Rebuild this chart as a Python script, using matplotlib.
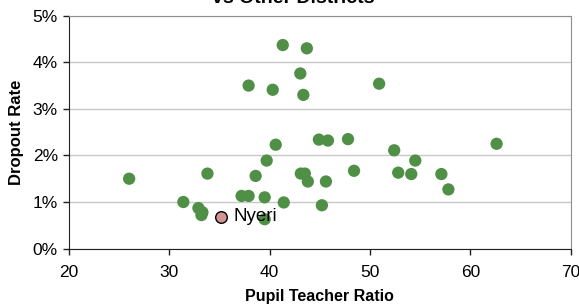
import matplotlib
matplotlib.use("Agg")
import matplotlib.pyplot as plt
from matplotlib.ticker import FuncFormatter, MultipleLocator

# other districts: pupil teacher ratio, dropout rate (%)
ptr = [26.0, 33.8, 31.4, 32.9, 33.3, 33.2, 37.2, 37.9, 39.5, 39.5,
       41.4, 38.6, 39.7, 40.6, 37.9, 40.3, 41.3, 43.7, 43.05, 43.35,
       43.1, 43.5, 43.8, 44.9, 45.2, 45.8, 47.8, 50.9, 52.4, 45.6,
       48.4, 52.8, 54.1, 54.5, 57.1, 57.8, 62.6]
dropout = [1.50, 1.61, 1.00, 0.87, 0.78, 0.72, 1.13, 1.13, 1.10, 0.63,
           0.99, 1.56, 1.89, 2.23, 3.50, 3.41, 4.37, 4.30, 3.76, 3.30,
           1.61, 1.61, 1.44, 2.34, 0.93, 2.32, 2.35, 3.54, 2.11, 1.44,
           1.67, 1.63, 1.60, 1.89, 1.60, 1.27, 2.25]

nyeri_ptr = 35.1
nyeri_dropout = 0.68

plt.rcParams['font.family'] = ['Liberation Sans', 'DejaVu Sans']

fig = plt.figure(figsize=(5.79, 3.05), dpi=100)
ax = fig.add_axes([0.119, 0.185, 0.867, 0.7635])

ax.scatter(ptr, dropout, s=78, c="#4F8F46", edgecolors="none", zorder=3)
ax.scatter([nyeri_ptr], [nyeri_dropout], s=70, c="#D49494", edgecolors="black",
           linewidths=1.0, zorder=4)
ax.annotate("Nyeri", (nyeri_ptr, nyeri_dropout), xytext=(9, 0),
            textcoords="offset points", va="center", ha="left", fontsize=13.5, zorder=5)

ax.set_xlim(20, 70)
ax.set_ylim(0, 5)
ax.xaxis.set_major_locator(MultipleLocator(10))
ax.yaxis.set_major_locator(MultipleLocator(1))
ax.yaxis.set_major_formatter(FuncFormatter(lambda v, p: "%d%%" % v))
ax.grid(axis="y", color="#c8c8c8", linewidth=1.0)
ax.set_axisbelow(True)

for side in ["top", "right"]:
    ax.spines[side].set_color("#909090")
for side in ["left", "bottom"]:
    ax.spines[side].set_color("#202020")
ax.tick_params(axis="both", direction="out", length=4, width=1, labelsize=12.5,
               color="#202020")
ax.tick_params(axis="x", pad=8)
ax.tick_params(axis="y", pad=4)

ax.set_xlabel("Pupil Teacher Ratio", fontsize=11.5, fontweight="bold", labelpad=6)
ax.set_ylabel("Dropout Rate", fontsize=12, fontweight="bold", labelpad=6)

fig.text(0.506, 0.991, "vs Other Districts", ha="center", va="baseline",
         fontsize=14, fontweight="bold")

fig.savefig("out.png", dpi=100)
